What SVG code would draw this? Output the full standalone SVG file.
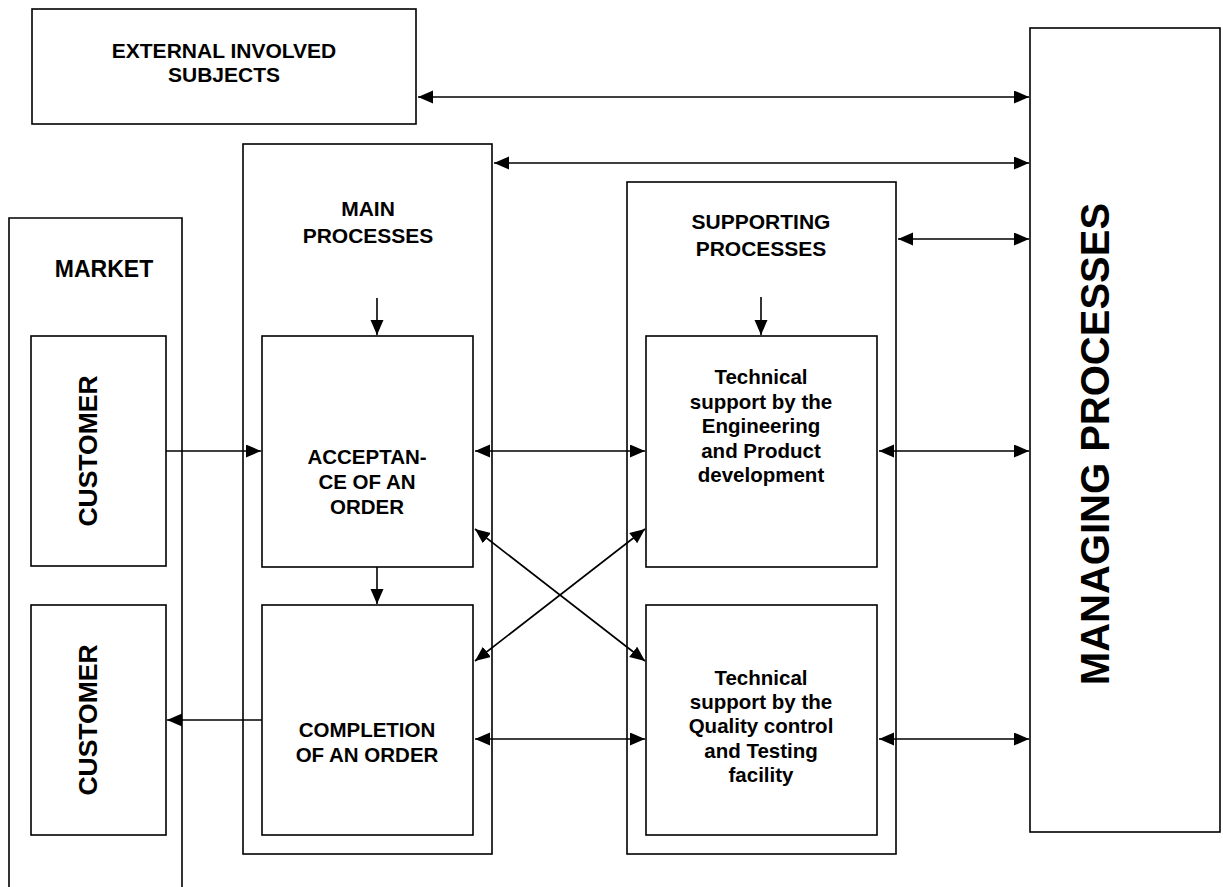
<svg xmlns="http://www.w3.org/2000/svg" width="1223" height="887" viewBox="0 0 1223 887">
<style>
.box{fill:#fff;stroke:#000;stroke-width:1.6}
.t{font-family:"Liberation Sans",Arial,sans-serif;font-weight:bold;fill:#000;text-anchor:middle}
.c{fill:none;stroke:#000;stroke-width:1.6}
</style>
<defs>
<marker id="ah" markerUnits="userSpaceOnUse" markerWidth="16" markerHeight="14" refX="15" refY="6.5" orient="auto-start-reverse">
<path d="M0,0 L15,6.5 L0,13 z" fill="#000"/>
</marker>
</defs>
<rect width="1223" height="887" fill="#fff"/>
<g id="market">
<path class="box" d="M9,887 V218 H182 V887"/>
<text class="t" x="104" y="277" font-size="23">MARKET</text>
</g>
<g id="external">
<rect class="box" x="32" y="9" width="384" height="115"/>
<text class="t" x="224" y="58" font-size="21">EXTERNAL INVOLVED</text>
<text class="t" x="224" y="82" font-size="21">SUBJECTS</text>
</g>
<g id="main">
<rect class="box" x="243" y="144" width="249" height="710"/>
<text class="t" x="368" y="216" font-size="21">MAIN</text>
<text class="t" x="368" y="243" font-size="21">PROCESSES</text>
</g>
<g id="supporting">
<rect class="box" x="627" y="182" width="269" height="672"/>
<text class="t" x="761" y="229" font-size="21">SUPPORTING</text>
<text class="t" x="761" y="256" font-size="21">PROCESSES</text>
</g>
<g id="managing">
<rect class="box" x="1030" y="28" width="190" height="804"/>
<text class="t" font-size="40" transform="translate(1109,444) rotate(-90)">MANAGING PROCESSES</text>
</g>
<g id="customer1">
<rect class="box" x="31" y="336" width="135" height="230"/>
<text class="t" font-size="26.5" transform="translate(97,451) rotate(-90)">CUSTOMER</text>
</g>
<g id="customer2">
<rect class="box" x="31" y="605" width="135" height="230"/>
<text class="t" font-size="26.5" transform="translate(97,720) rotate(-90)">CUSTOMER</text>
</g>
<g id="acceptance">
<rect class="box" x="262" y="336" width="211" height="231"/>
<text class="t" x="367" y="464" font-size="20.5">ACCEPTAN-</text>
<text class="t" x="367" y="489" font-size="20.5">CE OF AN</text>
<text class="t" x="367" y="514" font-size="20.5">ORDER</text>
</g>
<g id="completion">
<rect class="box" x="262" y="605" width="211" height="230"/>
<text class="t" x="367" y="737" font-size="20.5">COMPLETION</text>
<text class="t" x="367" y="762" font-size="20.5">OF AN ORDER</text>
</g>
<g id="tech1">
<rect class="box" x="646" y="336" width="231" height="231"/>
<text class="t" x="761" y="384" font-size="20.5">Technical</text>
<text class="t" x="761" y="408.5" font-size="20.5">support by the</text>
<text class="t" x="761" y="433" font-size="20.5">Engineering</text>
<text class="t" x="761" y="457.5" font-size="20.5">and Product</text>
<text class="t" x="761" y="482" font-size="20.5">development</text>
</g>
<g id="tech2">
<rect class="box" x="646" y="605" width="231" height="230"/>
<text class="t" x="761" y="685" font-size="20.5">Technical</text>
<text class="t" x="761" y="709" font-size="20.5">support by the</text>
<text class="t" x="761" y="733" font-size="20.5">Quality control</text>
<text class="t" x="761" y="757.5" font-size="20.5">and Testing</text>
<text class="t" x="761" y="782" font-size="20.5">facility</text>
</g>
<g id="connectors">
<line class="c" x1="418" y1="97" x2="1029" y2="97" marker-start="url(#ah)" marker-end="url(#ah)"/>
<line class="c" x1="494" y1="163" x2="1029" y2="163" marker-start="url(#ah)" marker-end="url(#ah)"/>
<line class="c" x1="898" y1="239" x2="1029" y2="239" marker-start="url(#ah)" marker-end="url(#ah)"/>
<line class="c" x1="377" y1="298" x2="377" y2="335" marker-end="url(#ah)"/>
<line class="c" x1="761" y1="297" x2="761" y2="335" marker-end="url(#ah)"/>
<line class="c" x1="377" y1="567" x2="377" y2="604" marker-end="url(#ah)"/>
<line class="c" x1="166" y1="451" x2="261" y2="451" marker-end="url(#ah)"/>
<line class="c" x1="262" y1="720" x2="167" y2="720" marker-end="url(#ah)"/>
<line class="c" x1="475" y1="451" x2="645" y2="451" marker-start="url(#ah)" marker-end="url(#ah)"/>
<line class="c" x1="879" y1="451" x2="1029" y2="451" marker-start="url(#ah)" marker-end="url(#ah)"/>
<line class="c" x1="475" y1="739" x2="645" y2="739" marker-start="url(#ah)" marker-end="url(#ah)"/>
<line class="c" x1="879" y1="739" x2="1029" y2="739" marker-start="url(#ah)" marker-end="url(#ah)"/>
<line class="c" x1="475" y1="529" x2="645" y2="661" marker-start="url(#ah)" marker-end="url(#ah)"/>
<line class="c" x1="475" y1="661" x2="645" y2="529" marker-start="url(#ah)" marker-end="url(#ah)"/>
</g>
</svg>
